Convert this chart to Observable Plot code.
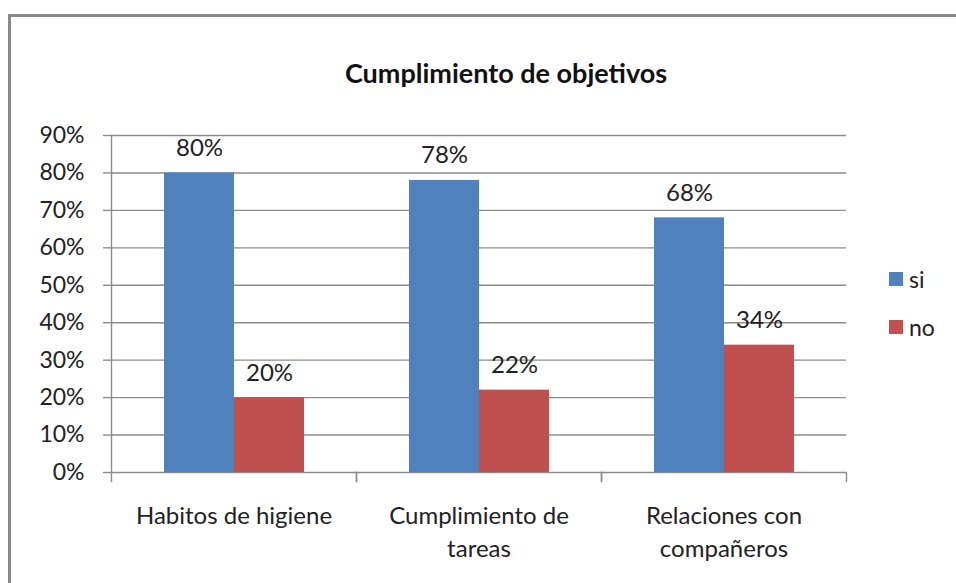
<!DOCTYPE html>
<html><head><meta charset="utf-8">
<script src="https://cdn.jsdelivr.net/npm/d3@7"></script>
<script src="https://cdn.jsdelivr.net/npm/@observablehq/plot@0.6"></script>
<style>
body{margin:0;background:#fff;}
#wrap{position:relative;width:956px;height:583px;overflow:hidden;font-family:Lato,sans-serif;}
#border{position:absolute;left:8px;top:14px;width:1000px;height:1000px;border-left:3px solid #8a8a8a;border-top:3px solid #8a8a8a;}
#title{position:absolute;left:0;width:1012px;top:56px;text-align:center;font-weight:bold;font-size:27px;color:#111;line-height:34px;}
#legend{position:absolute;left:889px;top:255px;font-size:23px;color:#222;}
.item{display:flex;align-items:center;height:48px;}
.sw{width:14px;height:14px;margin-right:6px;}
#chart{position:absolute;left:0;top:0;}
</style></head>
<body><div id="wrap"><div id="border"></div><div id="chart"></div><div id="title"></div><div id="legend"></div></div>
<script>
const title = "Cumplimiento de objetivos";
const categories = ["Habitos de higiene", "Cumplimiento de\ntareas", "Relaciones con\ncompañeros"];
const series = ["si", "no"];
const colors = ["#4F81BD", "#C0504D"];
const siValues = [0.80, 0.78, 0.68];
const noValues = [0.20, 0.22, 0.34];
const yTicks = [0, 0.1, 0.2, 0.3, 0.4, 0.5, 0.6, 0.7, 0.8, 0.9];

const data = categories.flatMap((c, i) => [
  {cat: c, serie: "si", value: siValues[i]},
  {cat: c, serie: "no", value: noValues[i]}
]);
const pct = d3.format(".0%");
const grid = "#8c8c8c";

const chart = Plot.plot({
  width: 956, height: 583,
  marginLeft: 110, marginRight: 110, marginTop: 135, marginBottom: 111,
  style: {fontFamily: "Lato, sans-serif", fontSize: "23px", color: "#222", background: "transparent"},
  fx: {domain: categories, padding: 0, label: null},
  x: {domain: series, paddingInner: 0, paddingOuter: 0.74, axis: null},
  y: {domain: [0, 0.9], axis: null},
  color: {domain: series, range: colors},
  marks: [
    Plot.ruleY(yTicks, {stroke: grid, strokeWidth: 1.4}),
    Plot.frame({anchor: "left", facetAnchor: "left", stroke: grid, strokeWidth: 1.4}),
    Plot.frame({anchor: "left", insetTop: 337, insetBottom: -9, stroke: grid, strokeWidth: 1.4}),
    Plot.frame({anchor: "right", insetTop: 337, insetBottom: -9, stroke: grid, strokeWidth: 1.4}),
    Plot.axisY({ticks: yTicks, tickFormat: pct, tickSize: 8, tickPadding: 19, label: null, stroke: grid, strokeWidth: 1.4, fontSize: 23}),
    Plot.barY(data, {fx: "cat", x: "serie", y: "value", fill: "serie"}),
    Plot.text(data, {fx: "cat", x: "serie", y: "value", text: d => pct(d.value), lineAnchor: "bottom", dy: -17, fill: "#222", fontSize: 24}),
    Plot.axisFx({anchor: "bottom", tickSize: 0, tickPadding: 28, lineHeight: 1.38, label: null, fill: "#222", fontSize: 24})
  ]
});
document.getElementById("chart").append(chart);
document.getElementById("title").textContent = title;
const legend = document.getElementById("legend");
series.forEach((s, i) => {
  const it = document.createElement("div");
  it.className = "item";
  const sw = document.createElement("div");
  sw.className = "sw";
  sw.style.background = colors[i];
  const t = document.createElement("span");
  t.textContent = s;
  it.append(sw, t);
  legend.append(it);
});
</script></body></html>
